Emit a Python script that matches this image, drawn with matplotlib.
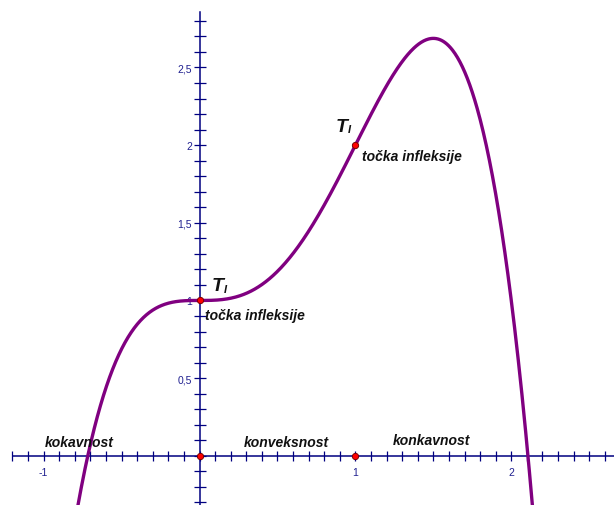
import numpy as np
import matplotlib
matplotlib.use("Agg")
import matplotlib.pyplot as plt
from matplotlib.ticker import FixedLocator, FuncFormatter

# f(x) = -x^4 + 2x^3 + 1  (coefficients, highest power first)
poly_coeffs = [-1, 2, 0, 0, 1]
x_domain = (-0.9, 2.25)

# marked points: inflection points and their projections on the x-axis
point_x = [0, 1, 0, 1]
point_y = [0, 0, 1, 2]

x_tick_values = np.round(np.arange(-1.2, 2.61, 0.1), 1)
y_tick_values = np.round(np.arange(-0.3, 2.81, 0.1), 1)
x_labeled = [-1, 1, 2]
y_labeled = [0.5, 1, 1.5, 2, 2.5]

region_labels = ["kokavnost", "konveksnost", "konkavnost"]
region_pos = [(-0.991, 0.066), (0.285, 0.062), (1.241, 0.075)]

inflection_pos = [(0.0, 1.0), (1.0, 2.0)]

AXIS_COL = "#000080"
LABEL_COL = "#202090"
CURVE_COL = "#800080"
FONT = "Liberation Sans"

fig = plt.figure(figsize=(6.14, 5.06), dpi=100)
ax = fig.add_axes([0, 0, 1, 1])
ax.set_xlim(-1.280, 2.659)
ax.set_ylim(-0.317, 2.941)

# axes through the origin
for side in ("top", "right"):
    ax.spines[side].set_visible(False)
ax.spines["left"].set_position(("data", 0))
ax.spines["bottom"].set_position(("data", 0))
for side in ("left", "bottom"):
    ax.spines[side].set_color(AXIS_COL)
    ax.spines[side].set_linewidth(1.1)
ax.spines["bottom"].set_bounds(-1.198, 2.659)
ax.spines["left"].set_bounds(-0.317, 2.855)

def fmt_factory(labeled):
    def fmt(v, pos):
        for lv in labeled:
            if abs(v - lv) < 1e-6:
                return ("%g" % lv).replace(".", ",")
        return ""
    return fmt

ax.xaxis.set_major_locator(FixedLocator(x_tick_values))
ax.yaxis.set_major_locator(FixedLocator(y_tick_values))
ax.xaxis.set_major_formatter(FuncFormatter(fmt_factory(x_labeled)))
ax.yaxis.set_major_formatter(FuncFormatter(fmt_factory(y_labeled)))
ax.tick_params(axis="x", direction="inout", length=6.5, width=0.9,
               color=AXIS_COL, labelcolor=LABEL_COL, labelsize=7.5, pad=4.5)
ax.tick_params(axis="y", direction="inout", length=8, width=0.9,
               color=AXIS_COL, labelcolor=LABEL_COL, labelsize=7.5, pad=1.5)
for lab in ax.get_xticklabels() + ax.get_yticklabels():
    lab.set_fontfamily(FONT)

# the function graph
xs = np.linspace(x_domain[0], x_domain[1], 800)
ax.plot(xs, np.polyval(poly_coeffs, xs), color=CURVE_COL, lw=2.4,
        zorder=3, solid_capstyle="round")

# marked points
ax.plot(point_x, point_y, "o", ms=4.5, mfc="#ff0000", mec="#7a0000",
        mew=0.7, zorder=5, clip_on=False)

# inflection point labels
txt = dict(family=FONT, weight="bold", style="italic", color="#111111")
for (px, py), (tx, ty), (sx, sy), (lx, ly) in zip(
        inflection_pos,
        [(0.080, 1.067), (0.876, 2.091)],
        [(0.157, 1.054), (0.953, 2.085)],
        [(0.035, 0.878), (1.042, 1.906)]):
    ax.text(tx, ty, "T", fontsize=14, va="baseline", ha="left", **txt)
    ax.text(sx, sy, "I", fontsize=8, va="baseline", ha="left", **txt)
    ax.text(lx, ly, "točka infleksije", fontsize=10, va="baseline",
            ha="left", **txt)

# concavity / convexity region labels
for label, (rx, ry) in zip(region_labels, region_pos):
    ax.text(rx, ry, label, fontsize=10, va="baseline", ha="left", **txt)

fig.savefig("out.png", dpi=100)
